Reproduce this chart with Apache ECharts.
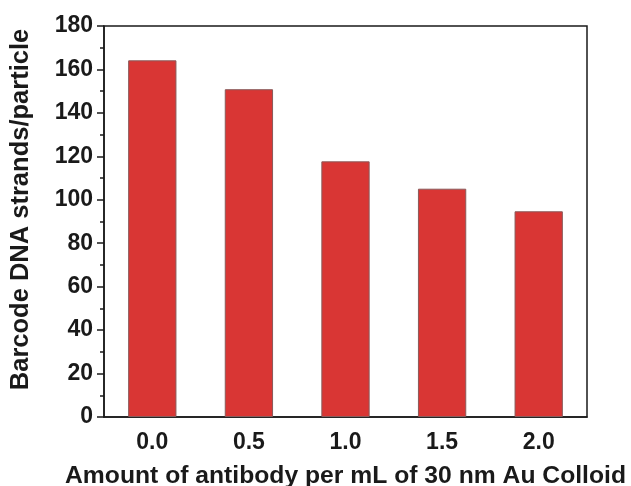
<!DOCTYPE html>
<html><head><meta charset="utf-8">
<script src="https://cdn.jsdelivr.net/npm/echarts@6/dist/echarts.min.js"></script>
<style>html,body{margin:0;padding:0;background:#fff}#c{width:631px;height:486px}</style>
</head><body><div id="c"></div>
<script>
const categories = ['0.0', '0.5', '1.0', '1.5', '2.0'];
const strands = [164.2, 150.9, 117.7, 105.1, 94.7];
const xTitle = 'Amount of antibody per mL of 30 nm Au Colloid';
const yTitle = 'Barcode DNA strands/particle';

const font = '"Liberation Sans", Arial, sans-serif';
const chart = echarts.init(document.getElementById('c'), null, {renderer: 'canvas'});
chart.setOption({
  animation: false,
  grid: {left: 104, right: 44, top: 26, bottom: 69, containLabel: false, outerBoundsMode: 'none',
    show: true, borderColor: '#1a1a1a', borderWidth: 1.5, backgroundColor: 'transparent'},
  xAxis: [{
    type: 'category', data: categories, boundaryGap: true,
    axisLine: {lineStyle: {color: '#1a1a1a', width: 1.5}},
    axisTick: {alignWithLabel: true, length: 7, lineStyle: {color: '#1a1a1a', width: 1.5}},
    axisLabel: {color: '#1a1a1a', fontFamily: font, fontWeight: 'bold', fontSize: 23, margin: 14},
    name: xTitle, nameLocation: 'middle', nameGap: 47,
    nameTextStyle: {color: '#1a1a1a', fontFamily: font, fontWeight: 'bold', fontSize: 24.7}
  }, {
    type: 'category', data: categories, boundaryGap: true, position: 'bottom',
    axisLine: {show: false},
    axisTick: {alignWithLabel: false, length: 4, lineStyle: {color: '#1a1a1a', width: 1.5}},
    axisLabel: {show: false}
  }],
  yAxis: {
    type: 'value', min: 0, max: 180, interval: 20,
    axisLine: {show: true, lineStyle: {color: '#1a1a1a', width: 1.5}},
    axisTick: {show: true, length: 7, lineStyle: {color: '#1a1a1a', width: 1.5}},
    minorTick: {show: true, splitNumber: 2, length: 4, lineStyle: {color: '#1a1a1a', width: 1.5}},
    splitLine: {show: false},
    axisLabel: {color: '#1a1a1a', fontFamily: font, fontWeight: 'bold', fontSize: 23, margin: 11},
    name: yTitle, nameLocation: 'middle', nameGap: 70,
    nameTextStyle: {color: '#1a1a1a', fontFamily: font, fontWeight: 'bold', fontSize: 25.5, padding: [0, 0, 0, 24]}
  },
  series: [{
    type: 'bar', data: strands, barWidth: '50%', xAxisIndex: 0,
    itemStyle: {color: '#d93634', borderColor: '#8a5a5a', borderWidth: 1}
  }]
});
</script></body></html>
